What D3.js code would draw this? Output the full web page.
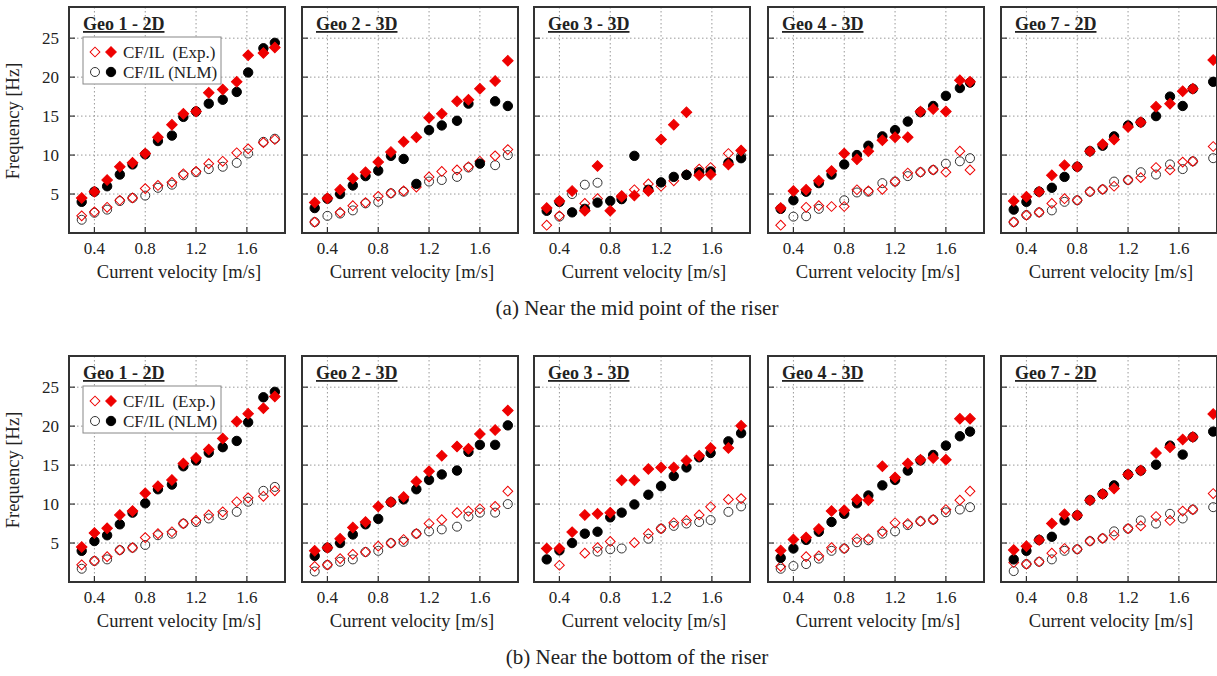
<!DOCTYPE html>
<html>
<head>
<meta charset="utf-8">
<script src="https://cdn.jsdelivr.net/npm/d3@7"></script>
<style>
  body { margin: 0; background: #fff; }
  text { font-family: "Liberation Serif", "Times New Roman", serif; fill: #222; }
</style>
</head>
<body>
<svg width="1217" height="676"></svg>
<script>
var titles = ["Geo 1 - 2D", "Geo 2 - 3D", "Geo 3 - 3D", "Geo 4 - 3D", "Geo 7 - 2D"]
var captions = ["(a) Near the mid point of the riser", "(b) Near the bottom of the riser"]
var xTicks = [0.4, 0.8, 1.2, 1.6]
var yTicks = [5, 10, 15, 20, 25]

// current velocities [m/s] of each geometry
var velGeo1 = [0.3, 0.4, 0.5, 0.6, 0.7, 0.8, 0.9, 1.01, 1.1, 1.2, 1.3, 1.41, 1.52, 1.61, 1.73, 1.82]
var velGeo2 = [0.3, 0.4, 0.5, 0.6, 0.7, 0.8, 0.9, 1.0, 1.1, 1.2, 1.3, 1.42, 1.51, 1.6, 1.72, 1.82]
var velGeo3 = [0.3, 0.4, 0.5, 0.6, 0.7, 0.8, 0.89, 0.99, 1.1, 1.2, 1.3, 1.4, 1.5, 1.59, 1.73, 1.83]
var velGeo4 = [0.3, 0.4, 0.5, 0.6, 0.7, 0.8, 0.9, 0.99, 1.1, 1.2, 1.3, 1.4, 1.5, 1.6, 1.71, 1.79]
var velGeo7 = [0.3, 0.4, 0.5, 0.6, 0.7, 0.8, 0.9, 1.0, 1.09, 1.2, 1.3, 1.42, 1.53, 1.63, 1.71, 1.87]

// (a) mid point of the riser
var midGeo1CFexp = [4.5, 5.3, 6.8, 8.5, 9.0, 10.2, 12.3, 13.9, 15.3, 15.6, 18.0, 18.4, 19.4, 22.8, 23.1, 23.8]
var midGeo1CFnlm = [4.0, 5.3, 6.0, 7.5, 8.8, 10.1, 11.8, 12.5, 14.9, 15.6, 16.6, 17.1, 18.1, 20.6, 23.7, 24.4]
var midGeo1ILexp = [2.2, 2.7, 3.3, 4.2, 4.5, 5.7, 6.1, 6.5, 7.6, 7.9, 8.9, 9.2, 10.3, 10.8, 11.6, 12.0]
var midGeo1ILnlm = [1.7, 2.6, 3.0, 4.1, 4.5, 4.8, 5.8, 6.2, 7.4, 7.8, 8.2, 8.5, 9.0, 10.2, 11.7, 12.1]

var midGeo2CFexp = [3.9, 4.45, 5.55, 7.0, 7.8, 9.1, 10.4, 11.7, 12.3, 14.8, 15.3, 16.9, 17.1, 18.5, 19.5, 22.1]
var midGeo2CFnlm = [3.2, 4.4, 5.0, 6.1, 7.3, 8.0, 9.9, 9.5, 6.3, 13.2, 13.8, 14.4, 16.6, 8.9, 16.9, 16.3]
var midGeo2ILexp = [1.4, null, 2.65, 3.5, 3.9, 4.7, 5.1, 5.4, 5.9, 7.2, 7.9, 8.1, 8.5, 9.2, 9.9, 10.7]
var midGeo2ILnlm = [1.4, 2.2, 2.5, 2.9, 3.8, 4.0, 5.1, 5.3, null, 6.6, 6.8, 7.2, 8.4, null, 8.7, 10.0]

var midGeo3CFexp = [3.2, 4.1, 5.4, 2.85, 8.6, 2.85, 4.65, 4.8, 5.4, 12.0, 13.9, 15.5, 7.4, 7.5, 8.8, 10.6]
var midGeo3CFnlm = [2.85, 4.0, 2.65, 3.1, 3.9, 4.1, 4.35, 9.9, 5.55, 6.5, 7.2, 7.45, 7.8, 7.9, 9.0, 9.6]
var midGeo3ILexp = [1.0, 2.2, null, 3.8, 4.4, null, 4.8, 5.55, 6.3, 6.0, 6.7, 7.5, 8.2, 8.4, 10.2, null]
var midGeo3ILnlm = [null, 2.1, 5.0, 6.2, 6.45, null, 4.35, null, null, null, null, null, null, null, null, 9.9]

var midGeo4CFexp = [3.2, 5.4, 5.55, 6.7, 7.95, 10.2, 9.45, 10.5, 11.9, 12.3, 12.3, 15.6, 15.9, 15.6, 19.6, 19.4]
var midGeo4CFnlm = [3.1, 4.2, 5.3, 6.4, 7.5, 8.8, 10.0, 11.2, 12.4, 13.2, 14.3, 15.5, 16.3, 17.6, 18.6, 19.3]
var midGeo4ILexp = [1.0, null, 3.3, 3.5, 3.4, 3.4, 5.55, 5.4, 5.6, 6.6, 7.7, 7.8, 8.1, 7.8, 10.5, 8.1]
var midGeo4ILnlm = [null, 2.1, 2.15, 3.1, null, 4.2, 5.2, 5.3, 6.4, 6.6, 7.3, 7.8, 8.1, 8.9, 9.2, 9.6]

var midGeo7CFexp = [4.1, 4.65, 5.3, 7.4, 8.7, 8.5, 10.5, 11.4, 12.0, 13.6, 14.2, 16.2, 16.6, 18.2, 18.5, 22.2]
var midGeo7CFnlm = [3.0, 4.0, 5.3, 5.8, 7.2, 8.5, 10.5, 11.2, 12.4, 13.8, 14.2, 15.0, 17.5, 16.3, 18.5, 19.4]
var midGeo7ILexp = [1.4, 2.3, 2.65, 3.8, 4.4, 4.2, 5.3, 5.6, 6.0, 6.8, 7.1, 8.4, 8.1, 9.1, 9.2, 11.1]
var midGeo7ILnlm = [1.4, 2.3, 2.65, 2.9, 4.0, 4.2, 5.3, 5.6, 6.6, 6.8, 7.8, 7.5, 8.8, 8.2, 9.2, 9.6]

// (b) bottom of the riser
var botGeo1CFexp = [4.5, 6.3, 6.9, 8.6, 9.1, 11.4, 12.3, 13.1, 15.2, 15.9, 17.0, 18.4, 20.6, 21.6, 22.3, 23.8]
var botGeo1CFnlm = [4.0, 5.25, 6.0, 7.4, 8.9, 10.1, 11.9, 12.5, 14.85, 15.6, 16.6, 17.3, 18.1, 20.5, 23.7, 24.4]
var botGeo1ILexp = [2.2, 2.7, 3.25, 4.1, 4.4, 5.7, 6.2, 6.45, 7.5, 7.9, 8.6, 9.0, 10.3, 10.8, 11.0, 11.7]
var botGeo1ILnlm = [1.7, 2.7, 2.9, 4.1, 4.4, 4.75, 6.0, 6.2, 7.5, 7.7, 8.15, 8.6, 9.0, 10.3, 11.7, 12.2]

var botGeo2CFexp = [4.0, 4.4, 5.55, 7.0, 7.7, 9.7, 10.25, 10.9, 12.9, 14.2, 16.2, 17.4, 17.1, 19.0, 19.5, 22.0]
var botGeo2CFnlm = [3.35, 4.4, 5.0, 6.1, 7.4, 8.1, 10.25, 10.6, 11.9, 13.1, 13.8, 14.3, 16.7, 17.6, 17.6, 20.1]
var botGeo2ILexp = [2.0, 2.2, 3.0, 3.55, 3.85, 4.6, 5.0, 5.45, 6.2, 7.5, 8.0, 8.9, 9.1, 9.4, 9.7, 11.65]
var botGeo2ILnlm = [1.35, 2.2, 2.6, 2.9, 3.85, 4.0, 5.0, 5.15, 6.2, 6.5, 6.75, 7.1, 8.4, 8.9, 8.9, 10.0]

var botGeo3CFexp = [4.3, 4.3, 6.4, 8.6, 8.75, 8.9, 13.05, 13.05, 14.5, 14.7, 14.7, 15.6, 16.2, 17.2, 17.2, 20.05]
var botGeo3CFnlm = [2.9, 4.05, 5.0, 6.2, 6.45, 8.3, 8.9, 9.95, 11.2, 12.3, 13.6, 14.7, 16.0, 16.55, 18.05, 19.1]
var botGeo3ILexp = [null, 2.15, null, 3.7, 4.4, 5.2, null, 5.05, 6.2, 6.85, 7.6, 7.9, 8.6, 9.65, 10.6, 10.7]
var botGeo3ILnlm = [null, null, null, null, 3.9, 4.2, 4.3, null, 5.55, 6.85, 7.2, 7.5, 7.7, 7.95, 9.0, 9.7]

var botGeo4CFexp = [4.05, 5.45, 5.7, 6.8, 9.1, 9.2, 10.6, 10.5, 14.85, 13.4, 15.2, 15.7, 15.9, 15.7, 20.95, 20.95]
var botGeo4CFnlm = [3.1, 4.3, 5.4, 6.45, 7.7, 8.75, 10.1, 11.1, 12.4, 13.1, 14.3, 15.6, 16.3, 17.5, 18.7, 19.3]
var botGeo4ILexp = [2.0, null, 3.25, 3.35, 4.4, 4.3, 5.55, 5.55, 6.5, 7.6, 7.5, 7.8, 8.0, 9.3, 10.5, 11.65]
var botGeo4ILnlm = [1.7, 2.05, 2.3, 3.0, 4.0, 4.3, 5.1, 5.35, 6.2, 6.5, 7.3, 7.8, 8.0, 8.95, 9.3, 9.6]

var botGeo7CFexp = [4.1, 4.6, 5.4, 7.5, 8.7, 8.55, 10.5, 11.3, 12.0, 13.8, 14.3, 16.55, 17.3, 18.3, 18.6, 21.55]
var botGeo7CFnlm = [2.9, 4.0, 5.4, 5.8, 7.9, 8.55, 10.5, 11.3, 12.4, 13.8, 14.3, 15.05, 17.5, 16.35, 18.6, 19.3]
var botGeo7ILexp = [2.5, 2.3, 2.6, 3.7, 4.3, 4.2, 5.25, 5.6, 6.0, 6.85, 7.2, 8.4, 7.9, 9.1, 9.3, 11.35]
var botGeo7ILnlm = [1.4, 2.3, 2.6, 2.9, 4.0, 4.2, 5.25, 5.6, 6.5, 6.85, 7.9, 7.5, 8.75, 8.15, 9.3, 9.6]

var vels = [velGeo1, velGeo2, velGeo3, velGeo4, velGeo7]
var rows = [
  [[midGeo1ILnlm, midGeo1ILexp, midGeo1CFnlm, midGeo1CFexp],
   [midGeo2ILnlm, midGeo2ILexp, midGeo2CFnlm, midGeo2CFexp],
   [midGeo3ILnlm, midGeo3ILexp, midGeo3CFnlm, midGeo3CFexp],
   [midGeo4ILnlm, midGeo4ILexp, midGeo4CFnlm, midGeo4CFexp],
   [midGeo7ILnlm, midGeo7ILexp, midGeo7CFnlm, midGeo7CFexp]],
  [[botGeo1ILnlm, botGeo1ILexp, botGeo1CFnlm, botGeo1CFexp],
   [botGeo2ILnlm, botGeo2ILexp, botGeo2CFnlm, botGeo2CFexp],
   [botGeo3ILnlm, botGeo3ILexp, botGeo3CFnlm, botGeo3CFexp],
   [botGeo4ILnlm, botGeo4ILexp, botGeo4CFnlm, botGeo4CFexp],
   [botGeo7ILnlm, botGeo7ILexp, botGeo7CFnlm, botGeo7CFexp]]
]

var red = "#ee0000"
// marker styles in drawing order: IL NLM, IL exp, CF NLM, CF exp
var styles = [
  { shape: "circle", fill: "none", stroke: "#333" },
  { shape: "diamond", fill: "none", stroke: red },
  { shape: "circle", fill: "#000", stroke: "#000" },
  { shape: "diamond", fill: red, stroke: red }
]

var svg = d3.select("svg")
var panelLeft = [69, 302, 534, 768, 1001]
var panelW = 216, panelH = 226
var rowTop = [7, 356]

var x = d3.scaleLinear().domain([0.2, 1.9]).range([0, panelW])
var y = d3.scaleLinear().domain([0, 29]).range([panelH, 0])

var diamond = d3.symbol().type(d3.symbolSquare).size(56)
var diamondSmall = d3.symbol().type(d3.symbolSquare).size(48)

function marker(sel, st) {
  if (st.shape == "circle") {
    sel.append("circle").attr("r", st.fill == "none" ? 4.5 : 4.7)
      .attr("fill", st.fill).attr("stroke", st.stroke).attr("stroke-width", 1)
  } else {
    sel.append("path").attr("d", st.fill == "none" ? diamondSmall() : diamond())
      .attr("transform", "rotate(45)")
      .attr("fill", st.fill).attr("stroke", st.stroke).attr("stroke-width", 1)
  }
}

rows.forEach(function (row, r) {
  row.forEach(function (series, p) {
    var g = svg.append("g").attr("transform", `translate(${panelLeft[p]},${rowTop[r]})`)

    // dotted grid
    g.append("g").selectAll("line").data(xTicks).enter().append("line")
      .attr("x1", d => x(d)).attr("x2", d => x(d)).attr("y1", 0).attr("y2", panelH)
      .attr("stroke", "#999").attr("stroke-dasharray", "1.5,2.5")
    g.append("g").selectAll("line").data(yTicks).enter().append("line")
      .attr("x1", 0).attr("x2", panelW).attr("y1", d => y(d)).attr("y2", d => y(d))
      .attr("stroke", "#999").attr("stroke-dasharray", "1.5,2.5")

    // inner ticks
    g.append("g").selectAll("line").data(yTicks).enter().append("line")
      .attr("x1", 0).attr("x2", 6).attr("y1", d => y(d)).attr("y2", d => y(d))
      .attr("stroke", "#333").attr("stroke-width", 1.2)
    g.append("g").selectAll("line").data(xTicks).enter().append("line")
      .attr("x1", d => x(d)).attr("x2", d => x(d)).attr("y1", panelH).attr("y2", panelH - 6)
      .attr("stroke", "#333").attr("stroke-width", 1.2)

    // x tick labels
    g.append("g").selectAll("text").data(xTicks).enter().append("text")
      .attr("x", d => x(d)).attr("y", panelH + 21)
      .attr("text-anchor", "middle").style("font-size", "17px")
      .text(d => d.toFixed(1))
    g.append("text").attr("x", panelW / 2 + 2).attr("y", panelH + 45)
      .attr("text-anchor", "middle").style("font-size", "18.5px")
      .text("Current velocity [m/s]")

    if (p == 0) {
      g.append("g").selectAll("text").data(yTicks).enter().append("text")
        .attr("x", -10).attr("y", d => y(d) + 6)
        .attr("text-anchor", "end").style("font-size", "17px")
        .text(d => d)
      g.append("text")
        .attr("transform", `translate(-50,${panelH / 2 + 1}) rotate(-90)`)
        .attr("text-anchor", "middle").style("font-size", "18.5px")
        .text("Frequency [Hz]")
    }

    // points
    series.forEach(function (vals, s) {
      var pts = vels[p].map((v, i) => [v, vals[i]]).filter(d => d[1] != null)
      g.append("g").selectAll("g").data(pts).enter().append("g")
        .attr("transform", d => `translate(${x(d[0])},${y(d[1])})`)
        .each(function () { marker(d3.select(this), styles[s]) })
    })

    // frame
    g.append("rect").attr("width", panelW).attr("height", panelH)
      .attr("fill", "none").attr("stroke", "#333").attr("stroke-width", 2)

    // title
    g.append("text").attr("x", 14).attr("y", 23)
      .style("font-size", "18px").style("font-weight", "bold")
      .style("text-decoration", "underline")
      .text(titles[p])

    if (p == 0) {
      var lg = g.append("g").attr("transform", "translate(14,30)")
      lg.append("rect").attr("width", 138).attr("height", 47)
        .attr("fill", "#fff").attr("stroke", "#888").attr("stroke-width", 1)
      var items = [[1, 3, "CF/IL  (Exp.)"], [0, 2, "CF/IL (NLM)"]]
      items.forEach(function (it, k) {
        var ly = 15 + k * 20
        marker(lg.append("g").attr("transform", `translate(12,${ly})`), styles[it[0]])
        marker(lg.append("g").attr("transform", `translate(28,${ly})`), styles[it[1]])
        lg.append("text").attr("x", 40).attr("y", ly + 6)
          .style("font-size", "17px").style("white-space", "pre")
          .text(it[2])
      })
    }
  })

  svg.append("text").attr("x", 637).attr("y", rowTop[r] + panelH + 82)
    .attr("text-anchor", "middle").style("font-size", "21px")
    .text(captions[r])
})
</script>
</body>
</html>
